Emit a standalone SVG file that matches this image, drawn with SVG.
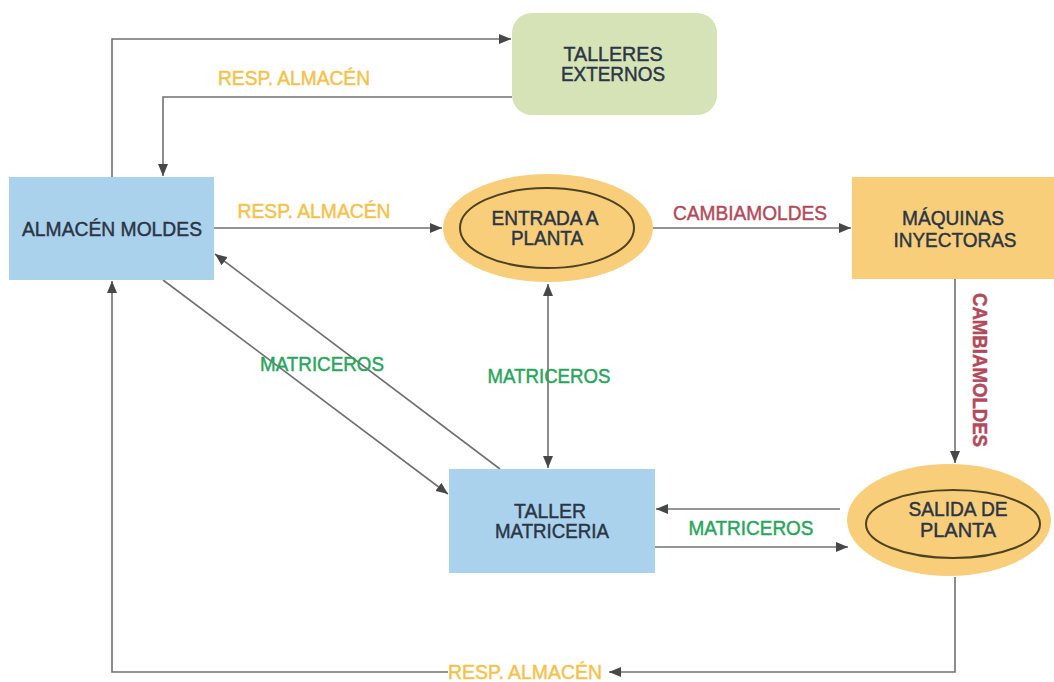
<svg xmlns="http://www.w3.org/2000/svg" width="1054" height="682" viewBox="0 0 1054 682">
<defs>
<style>
.t{font-family:"Liberation Sans",Arial,sans-serif;font-size:20px;fill:#2b3545;stroke:#2b3545;stroke-width:0.45;text-anchor:middle}
.lbl{font-family:"Liberation Sans",Arial,sans-serif;font-size:20px;text-anchor:middle;stroke-width:0.45}
.gold{fill:#f3c24a;stroke:#f3c24a}.red{fill:#b24a5c;stroke:#b24a5c}.green{fill:#28a55c;stroke:#28a55c}
.c{fill:none;stroke:#707070;stroke-width:1.6}
.blue{fill:#aad2ec}
.org{fill:#f8ce7a}
.inner{fill:none;stroke:#4d4322;stroke-width:2}
</style>
<marker id="ah" viewBox="0 0 12 10" markerWidth="12" markerHeight="10" refX="12" refY="5" orient="auto-start-reverse" markerUnits="userSpaceOnUse">
<path d="M0,0 L12,5 L0,10 z" fill="#474747"/>
</marker>
</defs>
<rect width="1054" height="682" fill="#ffffff"/>

<g id="connectors">
<path class="c" d="M112,177 V39 H511" marker-end="url(#ah)"/>
<path class="c" d="M512,97 H163 V176" marker-end="url(#ah)"/>
<path class="c" d="M214,228 H442" marker-end="url(#ah)"/>
<path class="c" d="M653,228 H851" marker-end="url(#ah)"/>
<path class="c" d="M955,279 V463" marker-end="url(#ah)"/>
<path class="c" d="M548,284 V468" marker-start="url(#ah)" marker-end="url(#ah)"/>
<path class="c" d="M163,280 L448,494" marker-end="url(#ah)"/>
<path class="c" d="M500,469 L215,254" marker-end="url(#ah)"/>
<path class="c" d="M840,509 H656" marker-end="url(#ah)"/>
<path class="c" d="M655,547 H848" marker-end="url(#ah)"/>
<path class="c" d="M955,577 V672 H609" marker-end="url(#ah)"/>
<path class="c" d="M448,672 H112 V281" marker-end="url(#ah)"/>
<text class="lbl gold" x="294" y="85" textLength="152" lengthAdjust="spacingAndGlyphs">RESP. ALMACÉN</text>
<text class="lbl gold" x="314" y="218" textLength="153" lengthAdjust="spacingAndGlyphs">RESP. ALMACÉN</text>
<text class="lbl red" x="750" y="220" textLength="154" lengthAdjust="spacingAndGlyphs">CAMBIAMOLDES</text>
<text class="lbl red" font-weight="bold" transform="translate(973,370) rotate(90)" x="0" y="0" textLength="154" lengthAdjust="spacingAndGlyphs">CAMBIAMOLDES</text>
<text class="lbl green" x="549" y="383" textLength="123" lengthAdjust="spacingAndGlyphs">MATRICEROS</text>
<text class="lbl green" x="322" y="371" textLength="124" lengthAdjust="spacingAndGlyphs">MATRICEROS</text>
<text class="lbl green" x="751" y="535" textLength="125" lengthAdjust="spacingAndGlyphs">MATRICEROS</text>
<text class="lbl gold" x="525" y="679" textLength="154" lengthAdjust="spacingAndGlyphs">RESP. ALMACÉN</text>
</g>

<g id="talleres-externos">
<rect x="512" y="13" width="205" height="102" rx="20" fill="#d5e3b6"/>
<text class="t" x="613" y="61" textLength="99" lengthAdjust="spacingAndGlyphs">TALLERES</text>
<text class="t" x="613" y="81" textLength="104" lengthAdjust="spacingAndGlyphs">EXTERNOS</text>
</g>

<g id="almacen-moldes">
<rect class="blue" x="9" y="177" width="205" height="103"/>
<text class="t" x="112" y="236" textLength="180" lengthAdjust="spacingAndGlyphs">ALMACÉN MOLDES</text>
</g>

<g id="entrada-planta">
<ellipse class="org" cx="548" cy="228" rx="105" ry="54"/>
<ellipse class="inner" cx="547" cy="228" rx="87" ry="40"/>
<text class="t" x="545" y="225" textLength="107" lengthAdjust="spacingAndGlyphs">ENTRADA A</text>
<text class="t" x="547" y="245" textLength="72" lengthAdjust="spacingAndGlyphs">PLANTA</text>
</g>

<g id="maquinas-inyectoras">
<rect class="org" x="852" y="177" width="202" height="102"/>
<text class="t" x="953" y="225" textLength="102" lengthAdjust="spacingAndGlyphs">MÁQUINAS</text>
<text class="t" x="955" y="247" textLength="123" lengthAdjust="spacingAndGlyphs">INYECTORAS</text>
</g>

<g id="taller-matriceria">
<rect class="blue" x="449" y="469" width="206" height="104"/>
<text class="t" x="550" y="518" textLength="72" lengthAdjust="spacingAndGlyphs">TALLER</text>
<text class="t" x="552" y="538" textLength="114" lengthAdjust="spacingAndGlyphs">MATRICERIA</text>
</g>

<g id="salida-planta">
<ellipse class="org" cx="949" cy="520" rx="102" ry="56"/>
<ellipse class="inner" cx="953" cy="524" rx="87" ry="34"/>
<text class="t" x="958" y="516" textLength="99" lengthAdjust="spacingAndGlyphs">SALIDA DE</text>
<text class="t" x="958" y="537" textLength="76" lengthAdjust="spacingAndGlyphs">PLANTA</text>
</g>
</svg>
